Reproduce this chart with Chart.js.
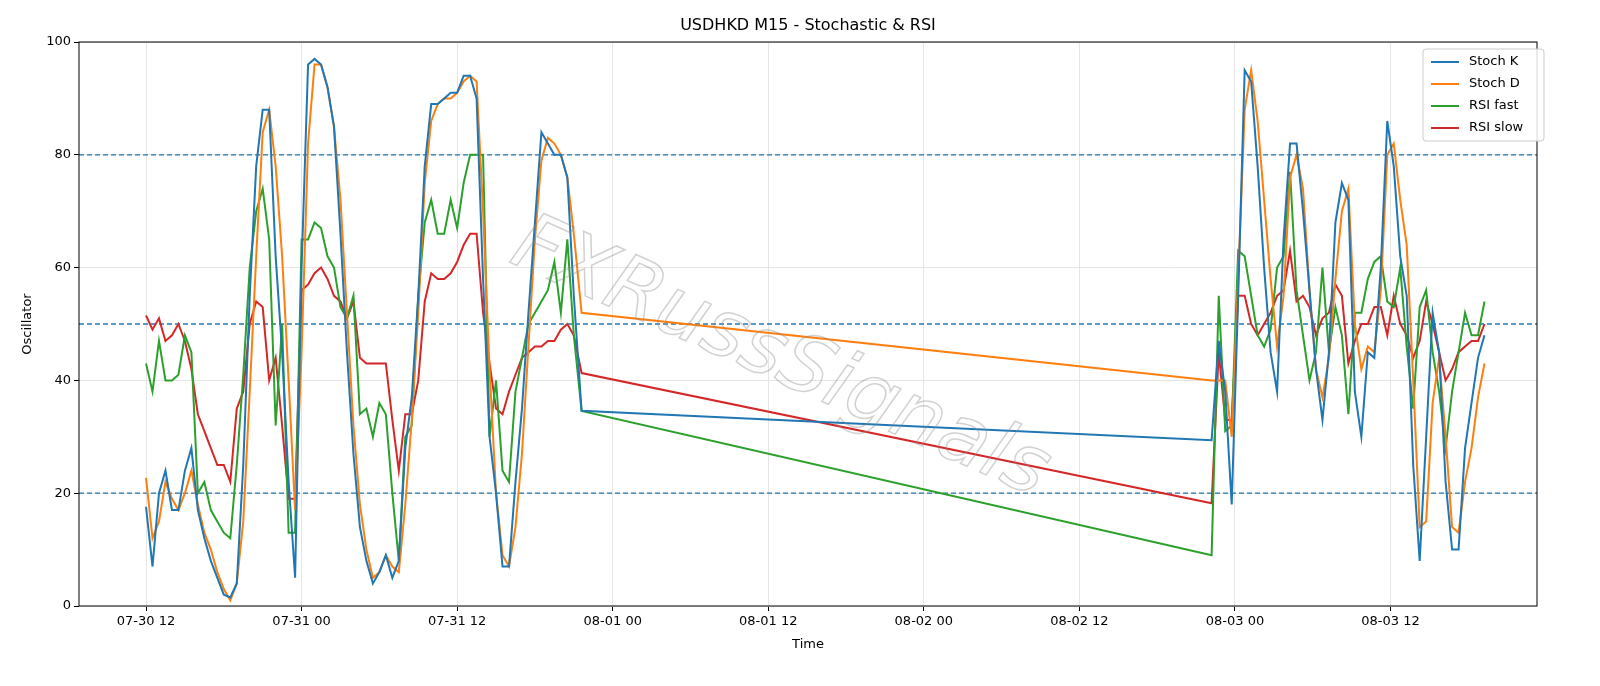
<!DOCTYPE html>
<html>
<head>
<meta charset="utf-8">
<script src="https://cdn.jsdelivr.net/npm/chart.js@4/dist/chart.umd.min.js"></script>
<style>
  body { margin: 0; background: #fff; }
  #wrap { width: 1600px; height: 686px; }
</style>
</head>
<body>
<div id="wrap"><canvas id="osc"></canvas></div>
<script>
// hours since 07-30 00:00
const hours = [
  12,12.5,13,13.5,14,14.5,15,15.5,16,16.5,17,17.5,18,18.5,19,19.5,20,20.5,21,21.5,
  22,22.5,23,23.5,24,24.5,25,25.5,26,26.5,27,27.5,28,28.5,29,29.5,30,30.5,31,31.5,
  32,32.5,33,33.5,34,34.5,35,35.5,36,36.5,37,37.5,38,38.5,39,39.5,40,40.5,41,41.5,
  42,42.5,43,43.5,44,44.5,45,45.6,
  94.2,94.75,95.25,95.75,96.25,96.75,97.25,97.75,98.25,98.75,99.25,99.75,100.25,100.75,
  101.25,101.75,102.25,102.75,103.25,103.75,104.25,104.75,105.25,105.75,106.25,106.75,
  107.25,107.75,108.25,108.75,109.25,109.75,110.25,110.75,111.25,111.75,112.25,112.75,
  113.25,113.75,114.25,114.75,115.25
];
const stochK = [
  17.6,7,20,24,17,17,24,28,17,12,8,5,2,1.5,4,25,55,78,88,88,
  62,45,22,5,60,96,97,96,92,85,66,45,27,14,8,4,6,9,5,8,
  28,37,55,78,89,89,90,91,91,94,94,90,58,30,20,7,7,22,35,52,
  68,84,82,80,80,76,55,34.6,
  29.4,47,38,18,55,95,93,78,60,45,38,65,82,82,70,56,42,33,45,68,
  75,72,38,30,45,44,60,86,78,62,55,25,8,30,52,45,22,10,10,28,36,44,48
];
const stochD = [
  22.7,12,15,22,19,17,20,24,18,13,10,6,3,1,4,15,38,62,84,88,
  78,62,40,17,45,82,96,96,92,85,72,52,32,18,10,5,6,9,7,6,
  18,33,52,75,86,89,90,90,91,93,94,93,70,42,20,9,7,14,27,46,
  65,79,83,82,80,76,66,52,
  40,40,40,30,58,88,95,86,72,58,46,55,76,80,74,56,42,37,44,58,
  70,74,50,42,46,45,56,80,82,72,64,40,14,15,36,44,30,14,13,22,28,37,43
];
const rsiFast = [
  43,38,47,40,40,41,48,45,20,22,17,15,13,12,25,41,60,70,74,65,
  32,50,13,13,65,65,68,67,62,60,53,51,55,34,35,30,36,34,20,8,
  30,32,55,68,72,66,66,72,67,75,80,80,80,30,40,24,22,38,44,50,
  52,54,56,61,52,65,48,34.6,
  9,55,31,32,63,62,55,48,46,49,60,62,77,56,48,40,45,60,45,53,
  48,34,52,52,58,61,62,54,53,60,46,35,53,56,45,38,28,38,45,52,48,48,54
];
const rsiSlow = [
  51.5,49,51,47,48,50,47,42,34,31,28,25,25,22,35,38,50,54,53,40,
  44,32,19,19,56,57,59,60,58,55,54,51,54,44,43,43,43,43,33,24,
  34,34,40,54,59,58,58,59,61,64,66,66,52,43,35,34,38,41,44,45,
  46,46,47,47,49,50,48,41.3,
  18.2,45,33,33,55,55,50,48,50,52,55,56,63,54,55,53,48,51,52,57,
  55,43,47,50,50,53,53,48,55,50,48,44,47,54,50,45,40,42,45,46,47,47,50
];
const levels = [80, 50, 20];
const yTicks = [0, 20, 40, 60, 80, 100];

const names = ['Stoch K', 'Stoch D', 'RSI fast', 'RSI slow'];
const colors = ['#1f77b4', '#ff7f0e', '#2ca02c', '#d62728'];
const series = [stochK, stochD, rsiFast, rsiSlow];

function tickLabel(h) {
  const d = Math.floor(h / 24);
  const hh = String(h % 24).padStart(2, '0');
  const date = d < 2 ? '07-' + (30 + d) : '08-' + String(d - 1).padStart(2, '0');
  return date + ' ' + hh;
}

const decor = {
  id: 'decor',
  beforeDatasetsDraw(chart) {
    const {ctx, chartArea: a, scales: {y}} = chart;
    ctx.save();
    ctx.strokeStyle = '#1f77b4';
    ctx.lineWidth = 1.3;
    ctx.setLineDash([5, 3]);
    levels.forEach(v => {
      const py = y.getPixelForValue(v);
      ctx.beginPath(); ctx.moveTo(a.left, py); ctx.lineTo(a.right, py); ctx.stroke();
    });
    ctx.restore();
  },
  afterDraw(chart) {
    const {ctx, chartArea: a} = chart;
    ctx.save();
    // watermark
    ctx.translate(780, 360);
    ctx.rotate(0.42);
    ctx.font = 'italic 80px "DejaVu Sans"';
    ctx.strokeStyle = 'rgba(140,140,140,0.4)';
    ctx.lineWidth = 1.5;
    ctx.textAlign = 'center';
    ctx.textBaseline = 'middle';
    ctx.strokeText('FXRussSignals', 0, 0);
    ctx.restore();

    ctx.save();
    ctx.strokeStyle = '#000';
    ctx.lineWidth = 1;
    ctx.strokeRect(a.left, a.top, a.right - a.left, a.bottom - a.top);
    // title
    ctx.fillStyle = '#000';
    ctx.font = '16px "DejaVu Sans"';
    ctx.textAlign = 'center';
    ctx.textBaseline = 'middle';
    ctx.fillText('USDHKD M15 - Stochastic & RSI', (a.left + a.right) / 2, 26);
    // legend
    const lx = 1423, ly = 49, lw = 121, lh = 92;
    ctx.fillStyle = 'rgba(255,255,255,0.85)';
    ctx.strokeStyle = '#cccccc';
    ctx.beginPath(); ctx.roundRect(lx, ly, lw, lh, 3); ctx.fill(); ctx.stroke();
    ctx.font = '13px "DejaVu Sans"';
    ctx.textAlign = 'left';
    names.forEach((n, i) => {
      const yy = ly + 13 + i * 22;
      ctx.strokeStyle = colors[i];
      ctx.lineWidth = 2;
      ctx.beginPath(); ctx.moveTo(lx + 8, yy); ctx.lineTo(lx + 36, yy); ctx.stroke();
      ctx.fillStyle = '#000';
      ctx.fillText(n, lx + 46, yy);
    });
    ctx.restore();
  }
};

new Chart(document.getElementById('osc'), {
  type: 'line',
  data: {
    datasets: series.map((s, i) => ({
      label: names[i],
      data: s.map((v, j) => ({x: hours[j], y: v})),
      borderColor: colors[i],
      borderWidth: 2,
      pointRadius: 0,
      tension: 0,
      fill: false
    }))
  },
  options: {
    responsive: true,
    maintainAspectRatio: false,
    animation: false,
    layout: {padding: {top: 42, right: 63, left: 16, bottom: 34}},
    plugins: {legend: {display: false}, tooltip: {enabled: false}},
    scales: {
      x: {
        type: 'linear', min: 6.83, max: 119.3,
        afterBuildTicks: s => { s.ticks = [12,24,36,48,60,72,84,96,108].map(v => ({value: v})); },
        afterFit: s => { s.height = 46; },
        ticks: {callback: v => tickLabel(v), color: '#000', font: {size: 13, family: 'DejaVu Sans'}, maxRotation: 0},
        grid: {color: '#e5e5e5', drawTicks: true, tickColor: '#000', tickLength: 5},
        border: {display: false},
        title: {display: true, text: 'Time', color: '#000', font: {size: 13, family: 'DejaVu Sans'}, padding: {top: 2, bottom: 0}}
      },
      y: {
        min: 0, max: 100,
        afterBuildTicks: s => { s.ticks = yTicks.map(v => ({value: v})); },
        afterFit: s => { s.width = 63; },
        ticks: {color: '#000', font: {size: 13, family: 'DejaVu Sans'}},
        grid: {color: '#e5e5e5', tickColor: '#000', tickLength: 5},
        border: {display: false},
        title: {display: true, text: 'Oscillator', color: '#000', font: {size: 13, family: 'DejaVu Sans'}}
      }
    }
  },
  plugins: [decor]
});
</script>
</body>
</html>
